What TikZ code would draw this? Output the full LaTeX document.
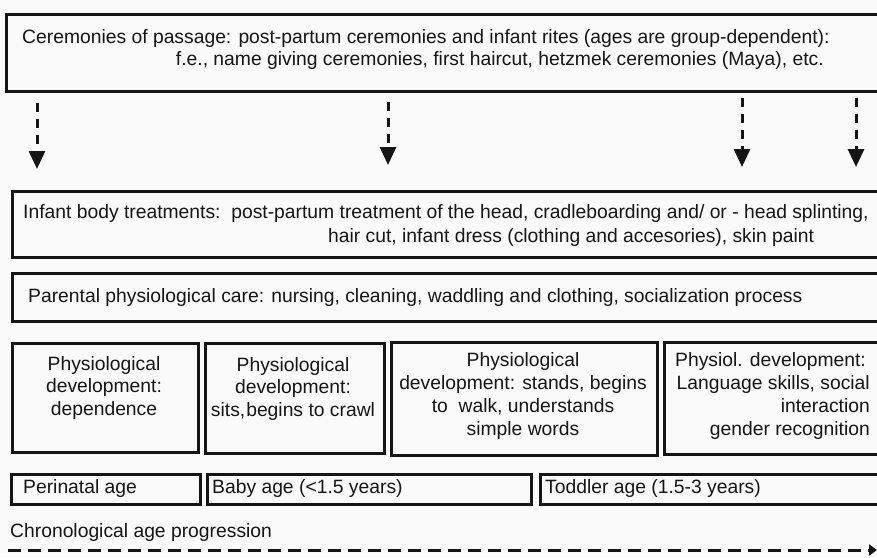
\documentclass[tikz,border=0pt]{standalone}
\usepackage{fontspec}
\setmainfont{Liberation Sans}
\usetikzlibrary{arrows.meta}
\definecolor{ink}{HTML}{151515}
\begin{document}
\begin{tikzpicture}[x=1pt,y=-1pt,
  box/.style={draw=ink, line width=2.8pt, rectangle, inner sep=0pt, anchor=north west},
  txt/.style={inner sep=0pt, font=\fontsize{19.3}{23}\selectfont, text=ink, text height=14pt, text depth=4pt},
  mtxt/.style={inner sep=0pt, font=\fontsize{19.3}{22.7}\selectfont, text=ink},
  darrow/.style={draw=ink, line width=3pt, dash pattern=on 9pt off 7pt, -{Triangle[width=16pt,length=18pt]}},
  longarrow/.style={draw=ink, line width=3pt, dash pattern=on 13pt off 7pt, -{Triangle[width=11pt,length=8pt]}}]
\useasboundingbox (0,0) rectangle (877,557);
\clip (0,0) rectangle (877,557);
\fill[white!98!black] (0,0) rectangle (877,557);

% top box
\node[box, minimum width=880pt, minimum height=77pt] (cer) at (5,13) {};
\node[txt, anchor=west] (cer1) at (22,38) {Ceremonies of passage: post-partum ceremonies and infant rites (ages are group-dependent):};
\node[txt, anchor=east] (cer2) at (824,60) {f.e., name giving ceremonies, first haircut, hetzmek ceremonies (Maya), etc.};

% dashed arrows
\coordinate (a1s) at (37,103);  \coordinate (a1e) at (37,169);
\coordinate (a2s) at (388,102); \coordinate (a2e) at (388,165);
\coordinate (a3s) at (742,98);  \coordinate (a3e) at (742,167);
\coordinate (a4s) at (856,98);  \coordinate (a4e) at (856,167);
\draw[darrow] (a1s) -- (a1e);
\draw[darrow] (a2s) -- (a2e);
\draw[darrow] (a3s) -- (a3e);
\draw[darrow] (a4s) -- (a4e);

% infant body treatments
\node[box, minimum width=875pt, minimum height=66pt] (inf) at (11,190) {};
\node[txt, anchor=west] (inf1) at (23,213) {Infant body treatments:\ \ post-partum treatment of the head, cradleboarding and/ or - head splinting,};
\node[txt, anchor=west] (inf2) at (328,237) {hair cut, infant dress (clothing and accesories), skin paint};

% parental care
\node[box, minimum width=875pt, minimum height=48pt] (par) at (11,272) {};
\node[txt, anchor=west] (par1) at (28,297) {Parental physiological care: nursing, cleaning, waddling and clothing, socialization process};

% physiological development boxes
\node[box, minimum width=186pt, minimum height=109pt] (p1) at (11,342) {};
\node[mtxt, align=center] (p1t) at (104,388) {Physiological\\development:\\dependence};
\node[box, minimum width=179pt, minimum height=110pt] (p2) at (204,342) {};
\node[mtxt, align=center] (p2t) at (293,389) {Physiological\\development:\\sits,\hspace{1pt}begins to crawl};
\node[box, minimum width=266pt, minimum height=113pt] (p3) at (390,341) {};
\node[mtxt, align=center] (p3t) at (523,396) {Physiological\\development: stands, begins\\to\ \ walk, understands\\simple words};
\node[box, minimum width=220pt, minimum height=112pt] (p4) at (663,341) {};
\node[mtxt, align=right, anchor=east] (p4t) at (870,396) {Physiol. development:\hspace*{4pt}\\Language skills, social\hspace*{4pt}\\interaction\\gender recognition};

% age boxes
\node[box, minimum width=189pt, minimum height=30pt] (age1) at (10,473) {};
\node[txt, anchor=west] (age1t) at (23,488) {Perinatal age};
\node[box, minimum width=324pt, minimum height=30pt] (age2) at (206,473) {};
\node[txt, anchor=west] (age2t) at (212,488) {Baby age (<1.5 years)};
\node[box, minimum width=345pt, minimum height=30pt] (age3) at (539,473) {};
\node[txt, anchor=west] (age3t) at (545,488) {Toddler age (1.5-3 years)};

% chronological progression
\node[txt, anchor=west] (chr) at (10,532) {Chronological age progression};
\coordinate (cs) at (8,550);
\coordinate (ce) at (877,550);
\draw[longarrow] (cs) -- (ce);
\end{tikzpicture}
\end{document}
